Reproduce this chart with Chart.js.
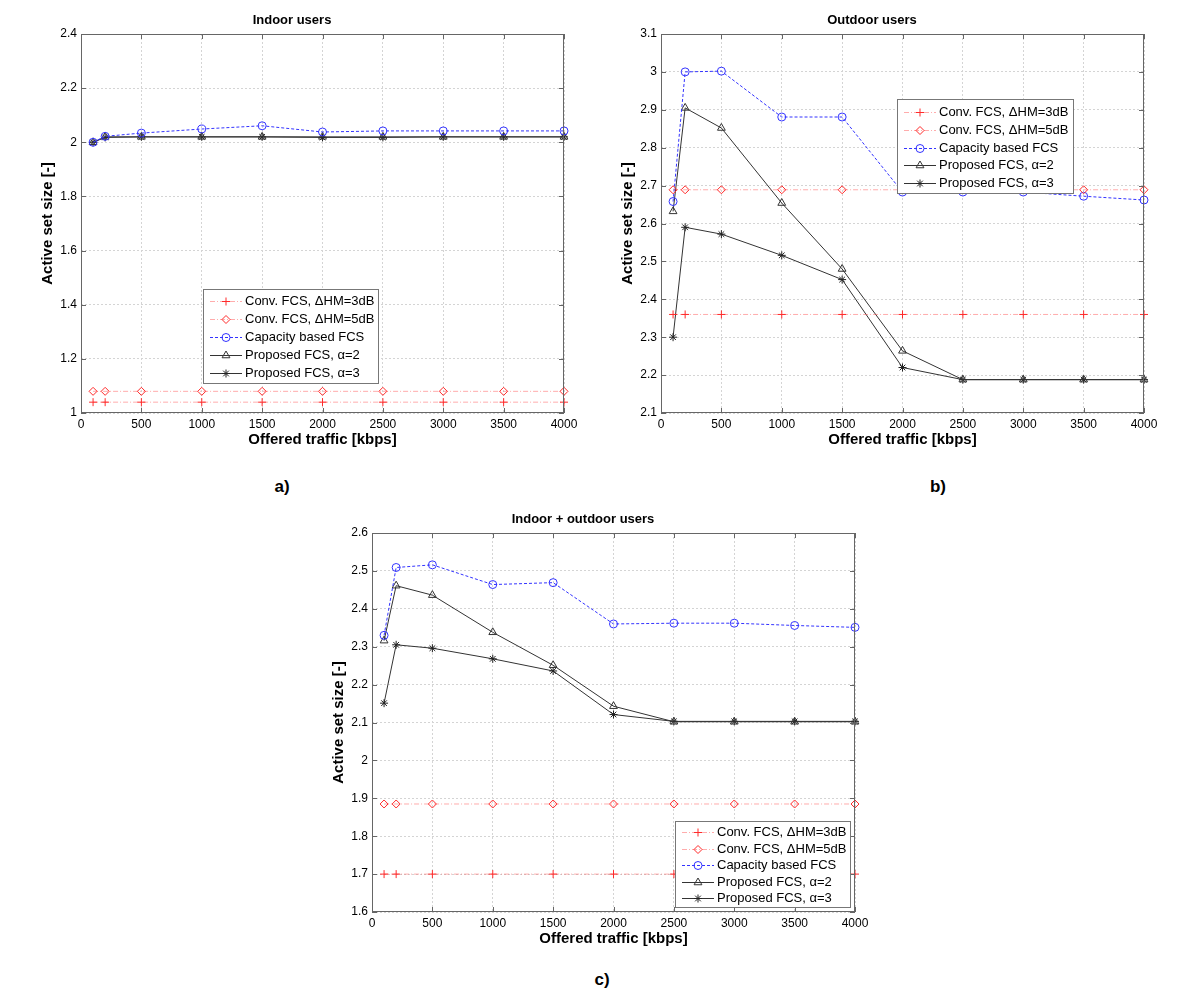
<!DOCTYPE html>
<html>
<head>
<meta charset="utf-8">
<script src="https://cdn.jsdelivr.net/npm/chart.js@4.4.1/dist/chart.umd.min.js"></script>
<style>
    body { margin: 0; width: 1200px; height: 993px; background: #fff; position: relative; overflow: hidden;
           font-family: 'Liberation Sans', Arial, sans-serif; }
    canvas { position: absolute; }
    .cap { position: absolute; font-weight: bold; font-size: 17px; transform: translate(-50%, -50%); }
</style>
</head>
<body>
<canvas id="indoorChart" width="570" height="455" style="left:20px;top:5px"></canvas>
<canvas id="outdoorChart" width="570" height="455" style="left:600px;top:5px"></canvas>
<canvas id="mixedChart" width="570" height="455" style="left:311px;top:504px"></canvas>
<div class="cap" style="left:282px;top:487px">a)</div>
<div class="cap" style="left:938px;top:487px">b)</div>
<div class="cap" style="left:602px;top:980px">c)</div>
<script>
// Offered traffic [kbps]
const xVals = [100, 200, 500, 1000, 1500, 2000, 2500, 3000, 3500, 4000];
const seriesNames = ['Conv. FCS, \u0394HM=3dB', 'Conv. FCS, \u0394HM=5dB', 'Capacity based FCS', 'Proposed FCS, \u03b1=2', 'Proposed FCS, \u03b1=3'];

// a) Indoor users
const indoorConv3 = [1.04, 1.04, 1.04, 1.04, 1.04, 1.04, 1.04, 1.04, 1.04, 1.04];
const indoorConv5 = [1.08, 1.08, 1.08, 1.08, 1.08, 1.08, 1.08, 1.08, 1.08, 1.08];
const indoorCapacity = [2.0, 2.022, 2.034, 2.049, 2.061, 2.038, 2.042, 2.042, 2.042, 2.042];
const indoorAlpha2 = [2.0, 2.02, 2.02, 2.02, 2.02, 2.02, 2.02, 2.02, 2.02, 2.02];
const indoorAlpha3 = [2.0, 2.018, 2.02, 2.02, 2.02, 2.018, 2.018, 2.02, 2.02, 2.02];

// b) Outdoor users
const outdoorConv3 = [2.36, 2.36, 2.36, 2.36, 2.36, 2.36, 2.36, 2.36, 2.36, 2.36];
const outdoorConv5 = [2.689, 2.689, 2.689, 2.689, 2.689, 2.689, 2.689, 2.689, 2.689, 2.689];
const outdoorCapacity = [2.658, 3.0, 3.002, 2.881, 2.881, 2.683, 2.683, 2.683, 2.672, 2.662];
const outdoorAlpha2 = [2.632, 2.905, 2.852, 2.654, 2.48, 2.264, 2.188, 2.188, 2.188, 2.188];
const outdoorAlpha3 = [2.30, 2.59, 2.572, 2.516, 2.452, 2.22, 2.188, 2.188, 2.188, 2.188];

// c) Indoor + outdoor users
const mixedConv3 = [1.70, 1.70, 1.70, 1.70, 1.70, 1.70, 1.70, 1.70, 1.70, 1.70];
const mixedConv5 = [1.885, 1.885, 1.885, 1.885, 1.885, 1.885, 1.885, 1.885, 1.885, 1.885];
const mixedCapacity = [2.330, 2.509, 2.516, 2.464, 2.469, 2.360, 2.362, 2.362, 2.356, 2.351];
const mixedAlpha2 = [2.316, 2.461, 2.436, 2.338, 2.251, 2.143, 2.102, 2.102, 2.102, 2.102];
const mixedAlpha3 = [2.151, 2.305, 2.296, 2.268, 2.236, 2.121, 2.103, 2.103, 2.103, 2.103];

Chart.defaults.font.family = "'Liberation Sans', Arial, sans-serif";
Chart.defaults.color = '#000';

const seriesStyles = [
    { borderColor: 'rgba(255,70,70,0.45)', borderDash: [5, 2, 1, 2], pointStyle: 'cross', pointRadius: 4, pointBorderColor: '#ff2a2a' },
    { borderColor: 'rgba(255,70,70,0.45)', borderDash: [5, 2, 1, 2], pointStyle: 'rectRot', pointRadius: 4, pointBorderColor: '#ff2a2a' },
    { borderColor: '#3333ff', borderDash: [3, 2], pointStyle: 'circle', pointRadius: 4, pointBorderColor: '#3333ff' },
    { borderColor: '#333', borderDash: [], pointStyle: 'triangle', pointRadius: 4.5, pointBorderColor: '#333' },
    { borderColor: '#333', borderDash: [], pointStyle: 'star', pointRadius: 4, pointBorderColor: '#222' }
];

// box + inward ticks like a matlab axes
const matlabFrame = {
    id: 'matlabFrame',
    afterDatasetsDraw(chart) {
        const { ctx, chartArea: a, scales } = chart;
        ctx.save();
        ctx.strokeStyle = '#666';
        ctx.lineWidth = 1;
        ctx.strokeRect(a.left + 0.5, a.top + 0.5, a.right - a.left - 1, a.bottom - a.top - 1);
        ctx.beginPath();
        scales.x.ticks.forEach(t => {
            const px = Math.round(scales.x.getPixelForValue(t.value)) + 0.5;
            ctx.moveTo(px, a.bottom); ctx.lineTo(px, a.bottom - 5);
            ctx.moveTo(px, a.top); ctx.lineTo(px, a.top + 5);
        });
        scales.y.ticks.forEach(t => {
            const py = Math.round(scales.y.getPixelForValue(t.value)) + 0.5;
            ctx.moveTo(a.left, py); ctx.lineTo(a.left + 5, py);
            ctx.moveTo(a.right, py); ctx.lineTo(a.right - 5, py);
        });
        ctx.stroke();
        ctx.restore();
    }
};

// legend box drawn inside the plot
const boxLegend = {
    id: 'boxLegend',
    afterDraw(chart, args, opts) {
        const ctx = chart.ctx;
        ctx.save();
        ctx.fillStyle = '#fff';
        ctx.fillRect(opts.x, opts.y, opts.w, opts.h);
        ctx.strokeStyle = '#777';
        ctx.lineWidth = 1;
        ctx.strokeRect(opts.x + 0.5, opts.y + 0.5, opts.w, opts.h);
        chart.data.datasets.forEach((ds, i) => {
            const y = Math.round(opts.y + opts.first + i * opts.gap) + 0.5;
            ctx.strokeStyle = ds.borderColor;
            ctx.lineWidth = 1;
            ctx.setLineDash(ds.borderDash);
            ctx.beginPath();
            ctx.moveTo(opts.x + 7, y);
            ctx.lineTo(opts.x + 39, y);
            ctx.stroke();
            ctx.setLineDash([]);
            ctx.strokeStyle = ds.pointBorderColor;
            ctx.fillStyle = 'rgba(0,0,0,0)';
            Chart.helpers.drawPoint(ctx, { pointStyle: ds.pointStyle, radius: ds.pointRadius, borderWidth: 1, rotation: 0 }, opts.x + 23, y);
            ctx.fillStyle = '#000';
            ctx.font = "13px 'Liberation Sans', Arial, sans-serif";
            ctx.textBaseline = 'middle';
            ctx.fillText(ds.label, opts.x + 42, y);
        });
        ctx.restore();
    }
};

function trim(v) {
    return String(parseFloat(v.toFixed(3)));
}

function makeChart(id, title, series, yMin, yMax, yStep, legendBox) {
    const ctx = document.getElementById(id).getContext('2d');
    return new Chart(ctx, {
        type: 'line',
        data: {
            datasets: series.map((vals, i) => ({
                label: seriesNames[i],
                data: xVals.map((x, j) => ({ x: x, y: vals[j] })),
                borderWidth: 1,
                pointBorderWidth: 1,
                pointBackgroundColor: 'rgba(0,0,0,0)',
                tension: 0,
                clip: false,
                ...seriesStyles[i]
            }))
        },
        options: {
            responsive: false,
            animation: false,
            layout: { padding: { top: 0, right: 26, bottom: 0, left: 0 } },
            scales: {
                x: {
                    type: 'linear',
                    min: 0,
                    max: 4000,
                    afterFit: s => { s.height = 47; },
                    ticks: { stepSize: 500, padding: 4, font: { size: 12 }, callback: v => String(v) },
                    grid: { color: '#d4d4d4', drawTicks: false },
                    border: { display: false, dash: [2, 2] },
                    title: { display: true, text: 'Offered traffic [kbps]', font: { size: 15, weight: 'bold' }, padding: { top: 0, bottom: 11.6 } }
                },
                y: {
                    min: yMin,
                    max: yMax,
                    afterFit: s => { s.width = 61; },
                    ticks: { stepSize: yStep, padding: 4, font: { size: 12 }, callback: v => trim(v) },
                    grid: { color: '#d4d4d4', drawTicks: false },
                    border: { display: false, dash: [2, 2] },
                    title: { display: true, text: 'Active set size [-]', font: { size: 15, weight: 'bold' }, padding: { top: 18.6, bottom: 0 } }
                }
            },
            plugins: {
                legend: { display: false },
                tooltip: { enabled: false },
                title: {
                    display: true,
                    text: title,
                    font: { size: 13, weight: 'bold' },
                    padding: { top: 7.2, bottom: 6.2 }
                },
                boxLegend: legendBox
            }
        },
        plugins: [matlabFrame, boxLegend]
    });
}

makeChart('indoorChart', 'Indoor users',
    [indoorConv3, indoorConv5, indoorCapacity, indoorAlpha2, indoorAlpha3],
    1, 2.4, 0.2, { x: 183, y: 284, w: 175, h: 94, first: 12, gap: 18 });

makeChart('outdoorChart', 'Outdoor users',
    [outdoorConv3, outdoorConv5, outdoorCapacity, outdoorAlpha2, outdoorAlpha3],
    2.1, 3.1, 0.1, { x: 297, y: 94, w: 176, h: 94, first: 13, gap: 17.8 });

makeChart('mixedChart', 'Indoor + outdoor users',
    [mixedConv3, mixedConv5, mixedCapacity, mixedAlpha2, mixedAlpha3],
    1.6, 2.6, 0.1, { x: 364, y: 317, w: 175, h: 86, first: 11, gap: 16.5 });
</script>
</body>
</html>
